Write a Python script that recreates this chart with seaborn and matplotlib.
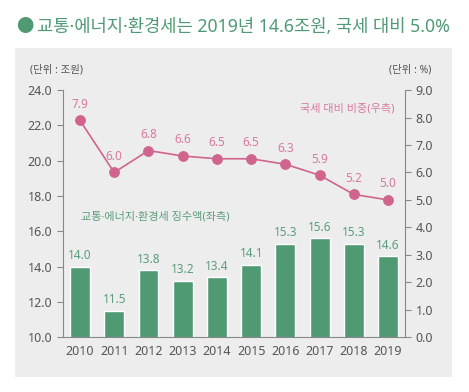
import matplotlib.pyplot as plt
import matplotlib.patches as mpatches
import numpy as np
import pandas as pd
import seaborn as sns

years = ['2010', '2011', '2012', '2013', '2014', '2015', '2016', '2017', '2018', '2019']
tax_amount = [14.0, 11.5, 13.8, 13.2, 13.4, 14.1, 15.3, 15.6, 15.3, 14.6]  # 조원 (left)
tax_share = [7.9, 6.0, 6.8, 6.6, 6.5, 6.5, 6.3, 5.9, 5.2, 5.0]  # % (right)

df = pd.DataFrame({'year': years, 'amount': tax_amount, 'share': tax_share})

green = '#4f9a73'
green_txt = '#5a9e7a'
pink = '#d0648f'
pink_txt = '#d77a9e'
gray = '#555555'

sns.set_theme(style="white")
# Noto Sans first so the middle dot stays narrow, Hangul falls back to CJK KR
plt.rcParams['font.family'] = ['Noto Sans', 'Noto Sans CJK KR', 'DejaVu Sans']

fig = plt.figure(figsize=(4.69, 3.92), dpi=100)
fig.patch.set_facecolor('white')

# gray panel behind chart
fig.patches.append(mpatches.Rectangle((0.032, 0.038), 0.932, 0.839, transform=fig.transFigure,
                                      facecolor='#ededed', edgecolor='none', zorder=-10))

ax = fig.add_axes([0.134, 0.14, 0.73, 0.63])
ax.set_facecolor('none')
sns.barplot(data=df, x='year', y='amount', color=green, width=0.58, saturation=1, ax=ax)
ax.set_ylim(10, 24)
ax.set_xlim(-0.5, 9.5)
ax.set_yticks(np.arange(10, 24.1, 2))
ax.set_yticklabels([f'{v:.1f}' for v in np.arange(10, 24.1, 2)])
ax.set_xlabel('')
ax.set_ylabel('')
for i, v in enumerate(tax_amount):
    ax.text(i, v + 0.25, f'{v:.1f}', ha='center', va='bottom', color=green_txt, fontsize=8.5)

ax2 = ax.twinx()
sns.lineplot(data=df, x='year', y='share', color=pink, marker='o', markersize=7,
             markeredgecolor=pink, linewidth=1.2, ax=ax2)
ax2.set_ylim(0, 9)
ax2.set_yticks(np.arange(0, 9.1, 1))
ax2.set_yticklabels([f'{v:.1f}' for v in np.arange(0, 9.1, 1)])
ax2.set_ylabel('')
ax2.set_xlim(-0.5, 9.5)
for i, v in enumerate(tax_share):
    ax2.text(i, v + 0.35, f'{v:.1f}', ha='center', va='bottom', color=pink_txt, fontsize=8.5)

for a in (ax, ax2):
    for s in ['top']:
        a.spines[s].set_visible(False)
    for s in ['left', 'right', 'bottom']:
        a.spines[s].set_color('#888888')
        a.spines[s].set_linewidth(0.8)
    a.tick_params(axis='both', colors='#888888', labelcolor=gray, labelsize=9, length=4, width=0.8)

ax.spines['right'].set_visible(False)
ax2.spines['left'].set_visible(False)
ax2.spines['bottom'].set_visible(False)
ax.tick_params(axis='x', which='major', length=0, pad=6)
ax.set_xticks(np.arange(-0.5, 10, 1), minor=True)
ax.tick_params(axis='x', which='minor', length=4, width=0.8, color='#888888', direction='out')

ax.text(0.03, 16.8, '교통·에너지·환경세 징수액(좌측)', color=green_txt, fontsize=8, va='center')
ax2.text(9.2, 8.3, '국세 대비 비중(우측)', color=pink_txt, fontsize=8, ha='right', va='center')

fig.text(0.064, 0.822, '(단위 : 조원)', color=gray, fontsize=7.5, va='center')
fig.text(0.92, 0.822, '(단위 : %)', color=gray, fontsize=7.5, va='center', ha='right')

# title
fig.text(0.034, 0.93, '●', color=green, fontsize=12.5, va='center', family='Noto Sans CJK KR')
fig.text(0.078, 0.932, '교통·에너지·환경세는 2019년 14.6조원, 국세 대비 5.0%', color=green,
         fontsize=12.75, va='center', fontweight='medium')

fig.savefig('out.png', dpi=100)
